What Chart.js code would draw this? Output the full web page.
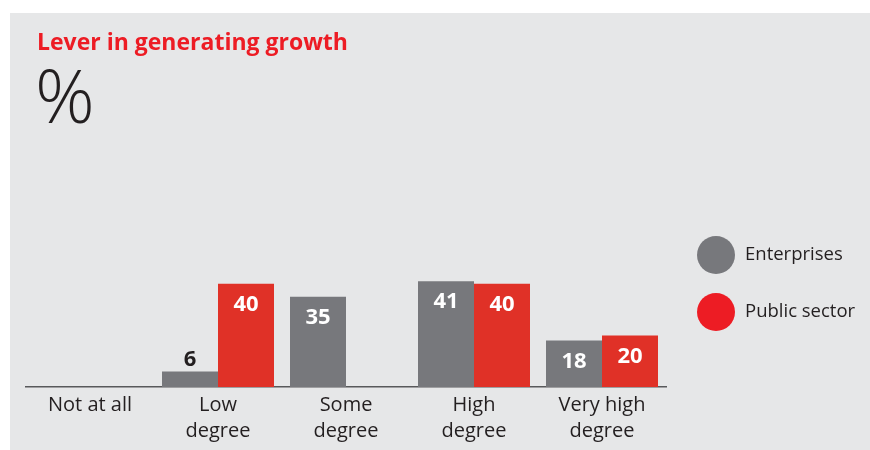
<!DOCTYPE html>
<html lang="en">
  <head>
    <meta charset="UTF-8" />
    <title>Lever in generating growth</title>
    <script src="https://cdn.jsdelivr.net/npm/chart.js"></script>
    <style>
      body {
        margin: 0;
        background: #ffffff;
        font-family: "Open Sans", "Noto Sans", sans-serif;
      }

      #panel {
        position: absolute;
        left: 10px;
        top: 13px;
        width: 860px;
        height: 437px;
        background: #e6e7e8;
      }

      #chart-title {
        position: absolute;
        left: 27px;
        top: 14.5px;
        margin: 0;
        font-size: 23px;
        line-height: 1.2;
        font-weight: bold;
        color: #ed1c24;
        white-space: nowrap;
        z-index: 2;
      }

      #chart-unit {
        position: absolute;
        left: 25px;
        top: 45px;
        font-size: 74px;
        line-height: 1;
        font-weight: 300;
        color: #231f20;
        z-index: 2;
      }

      #panel canvas {
        position: absolute;
        left: 0;
        top: 0;
      }
    </style>
  </head>

  <body>
    <div id="panel">
      <h1 id="chart-title">Lever in generating growth</h1>
      <div id="chart-unit">%</div>
      <canvas id="leverChart"></canvas>
    </div>

    <script>
      // data
      const categories = [
        ["Not at all"],
        ["Low", "degree"],
        ["Some", "degree"],
        ["High", "degree"],
        ["Very high", "degree"],
      ];
      const enterprises = [null, 6, 35, 41, 18];
      const publicSector = [null, 40, null, 40, 20];
      const seriesNames = ["Enterprises", "Public sector"];

      const GREY = "#77787c";
      const RED = "#e03127";
      const RED_DOT = "#ed1c24";
      const INK = "#231f20";
      const FONT = "'Open Sans', 'Noto Sans', sans-serif";

      // values drawn at the top of each bar (white inside, dark above short bars)
      const valueLabels = {
        id: "valueLabels",
        afterDatasetsDraw(chart) {
          const ctx = chart.ctx;
          ctx.save();
          ctx.font = "bold 22px " + FONT;
          ctx.textAlign = "center";
          ctx.textBaseline = "middle";
          chart.data.datasets.forEach((ds, i) => {
            chart.getDatasetMeta(i).data.forEach((bar, j) => {
              const v = ds.data[j];
              if (v === null || v === undefined) return;
              if (v >= 10) {
                ctx.fillStyle = "#ffffff";
                ctx.fillText(v, bar.x, bar.y + 21);
              } else {
                ctx.fillStyle = INK;
                ctx.fillText(v, bar.x, bar.y - 12);
              }
            });
          });
          ctx.restore();
        },
      };

      // big round legend on the right
      const dotLegend = {
        id: "dotLegend",
        afterDraw(chart) {
          const ctx = chart.ctx;
          ctx.save();
          ctx.font = "18.5px " + FONT;
          ctx.textAlign = "left";
          ctx.textBaseline = "middle";
          chart.data.datasets.forEach((ds, i) => {
            const y = 242 + i * 57;
            ctx.beginPath();
            ctx.arc(706, y, 19, 0, Math.PI * 2);
            ctx.fillStyle = ds.legendColor;
            ctx.fill();
            ctx.fillStyle = INK;
            ctx.fillText(ds.label, 735, y);
          });
          ctx.restore();
        },
      };

      new Chart(document.getElementById("leverChart"), {
        type: "bar",
        data: {
          labels: categories,
          datasets: [
            {
              label: seriesNames[0],
              data: enterprises,
              backgroundColor: GREY,
              legendColor: GREY,
            },
            {
              label: seriesNames[1],
              data: publicSector,
              backgroundColor: RED,
              legendColor: RED_DOT,
            },
          ],
        },
        options: {
          responsive: true,
          maintainAspectRatio: false,
          animation: false,
          datasets: {
            bar: {
              categoryPercentage: 0.875,
              barPercentage: 1,
            },
          },
          layout: {
            padding: { left: 16, right: 204, top: 245, bottom: 0 },
          },
          plugins: {
            legend: { display: false },
            tooltip: { enabled: false },
          },
          scales: {
            x: {
              grid: { display: false, drawTicks: false },
              border: { display: true, color: "#58595b", width: 1.5 },
              ticks: {
                color: INK,
                padding: 5.5,
                maxRotation: 0,
                autoSkip: false,
                font: { family: FONT, size: 20, lineHeight: 1.3 },
              },
            },
            y: {
              display: false,
              min: 0,
              max: 50,
            },
          },
        },
        plugins: [valueLabels, dotLegend],
      });
    </script>
  </body>
</html>
